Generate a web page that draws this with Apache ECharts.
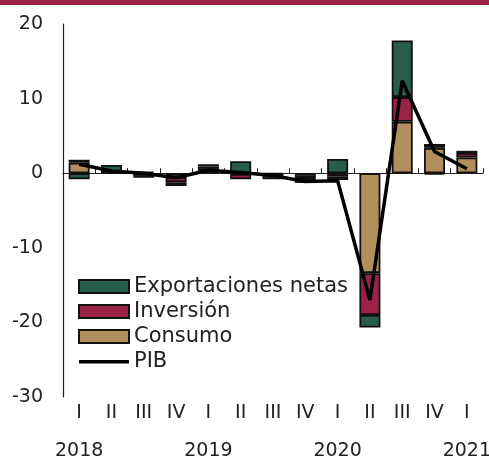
<!DOCTYPE html>
<html><head><meta charset="utf-8">
<script src="https://cdn.jsdelivr.net/npm/echarts@6/dist/echarts.min.js"></script>
<style>html,body{margin:0;padding:0;background:#fff}#c{width:489px;height:459px}</style>
</head><body><div id="c"></div>
<script>
const quarters = ['I','II','III','IV','I','II','III','IV','I','II','III','IV','I'];
const years = ['2018','','','','2019','','','','2020','','','','2021'];
const consumo = [1.4, 0.1, 0.2, -0.5, 0.4, -0.1, -0.1, -0.5, -0.4, -13.4, 6.9, 3.4, 2.1];
const inversion = [0.4, 0.0, -0.1, -0.7, 0.5, -0.7, -0.1, -0.5, -0.5, -5.6, 3.3, 0.5, 0.6];
const exportaciones = [-0.8, 1.0, -0.5, -0.5, 0.3, 1.6, -0.6, -0.3, 1.9, -1.7, 7.6, -0.2, 0.3];
const pib = [1.2, 0.3, 0.0, -0.6, 0.4, 0.1, -0.3, -1.1, -1.0, -17.0, 12.4, 2.9, 0.6];
const yTicks = {min: -30, max: 20, interval: 10};

const FONT = 'DejaVu Sans';
const cats = quarters.map((q, i) => i);
const chart = echarts.init(document.getElementById('c'));
const barStyle = c => ({color: c, borderColor: '#111', borderWidth: 1.8});
const lineIcon = 'path://M0,0 L0.01,0 L0,0.01 Z M0,5 L50,5 L50,8.5 L0,8.5 Z M0,13 L0.01,13 L0,12.99 Z';
chart.setOption({
  animation: false,
  textStyle: {fontFamily: FONT},
  graphic: [{type: 'rect', left: 0, top: 0, shape: {x: 0, y: 0, width: 489, height: 5}, style: {fill: '#9b2247'}}],
  grid: {left: 63, right: 6, top: 24, bottom: 62, containLabel: false, outerBoundsMode: 'none'},
  legend: {
    orient: 'vertical', left: 78, top: 276, padding: 0, itemWidth: 50, itemHeight: 13, itemGap: 4,
    textStyle: {fontSize: 21, color: '#222', fontFamily: FONT},
    data: [
      {name: 'Exportaciones netas', icon: 'rect'},
      {name: 'Inversión', icon: 'rect'},
      {name: 'Consumo', icon: 'rect'},
      {name: 'PIB', icon: lineIcon}
    ]
  },
  xAxis: [{
    type: 'category', data: cats, position: 'bottom',
    axisLine: {show: false, onZero: false}, axisTick: {show: false},
    axisLabel: {interval: 0, color: '#222', margin: 5,
      formatter: (v, i) => years[i] ? '{q|' + quarters[i] + '}\n{y|' + years[i] + '}' : '{q|' + quarters[i] + '}',
      rich: {q: {fontSize: 19, lineHeight: 22, color: '#222', fontFamily: FONT},
             y: {fontSize: 19, lineHeight: 54, color: '#222', fontFamily: FONT}}}
  }, {
    type: 'category', data: cats, position: 'top',
    axisLine: {show: true, onZero: true, lineStyle: {color: '#222', width: 1.2}},
    axisTick: {show: true, inside: false, length: 5, lineStyle: {color: '#222'}},
    axisLabel: {show: false}
  }],
  yAxis: {
    type: 'value', min: yTicks.min, max: yTicks.max, interval: yTicks.interval,
    axisLine: {show: true, lineStyle: {color: '#222', width: 1.2}},
    axisTick: {show: false}, splitLine: {show: false},
    axisLabel: {fontSize: 19, color: '#222', margin: 20}
  },
  series: [
    {name: 'Consumo', type: 'bar', stack: 's', data: consumo, barWidth: 21, itemStyle: barStyle('#b38e5d')},
    {name: 'Inversión', type: 'bar', stack: 's', data: inversion, barWidth: 21, itemStyle: barStyle('#9b2247')},
    {name: 'Exportaciones netas', type: 'bar', stack: 's', data: exportaciones, barWidth: 21, itemStyle: barStyle('#285c4b')},
    {name: 'PIB', type: 'line', data: pib, symbol: 'none', z: 5, lineStyle: {color: '#000', width: 3.5}, itemStyle: {color: '#000'}}
  ]
});
</script></body></html>
